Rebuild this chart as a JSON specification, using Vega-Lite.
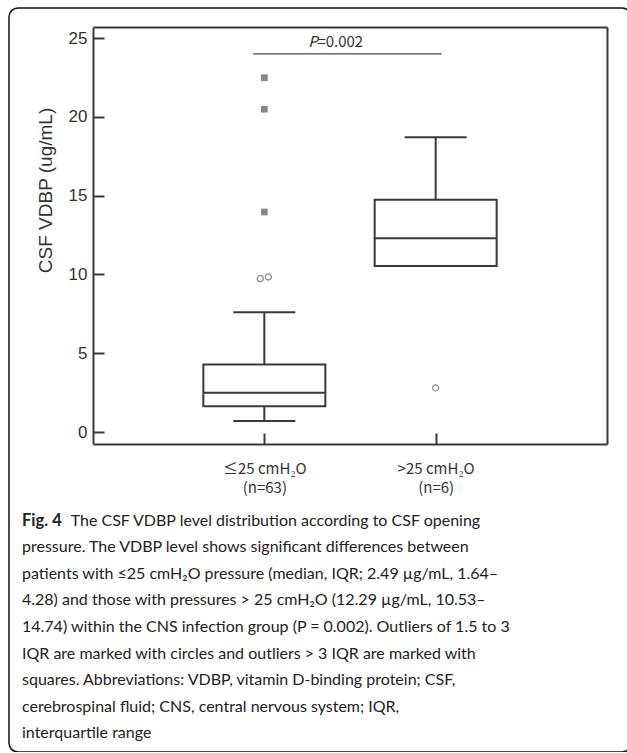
{
  "$schema": "https://vega.github.io/schema/vega-lite/v6.json",
  "width": 622,
  "height": 744,
  "autosize": "none",
  "padding": {"left": 9, "top": 8, "right": 0, "bottom": 0},
  "background": "white",
  "config": {
    "view": {"stroke": "#111", "strokeWidth": 1.5, "cornerRadius": 9, "fill": "white"}
  },
  "title": {
    "text": "Fig. 4",
    "subtitle": [
      "\u200d\u00a0\u00a0\u00a0\u00a0\u00a0\u00a0\u00a0\u00a0\u00a0\u00a0\u00a0\u00a0The CSF VDBP level distribution according to CSF opening",
      "pressure. The VDBP level shows significant differences between",
      "patients with ≤25 cmH₂O pressure (median, IQR; 2.49 µg/mL, 1.64–",
      "4.28) and those with pressures > 25 cmH₂O (12.29 µg/mL, 10.53–",
      "14.74) within the CNS infection group (P = 0.002). Outliers of 1.5 to 3",
      "IQR are marked with circles and outliers > 3 IQR are marked with",
      "squares. Abbreviations: VDBP, vitamin D-binding protein; CSF,",
      "cerebrospinal fluid; CNS, central nervous system; IQR,",
      "interquartile range"
    ],
    "orient": "bottom",
    "anchor": "start",
    "frame": "group",
    "offset": -239,
    "dx": 13,
    "font": "Lato",
    "fontSize": 16.5,
    "fontWeight": "bold",
    "color": "#222",
    "subtitleFont": "Lato",
    "subtitleFontSize": 16,
    "subtitleColor": "#222",
    "subtitleLineHeight": 26.6,
    "subtitlePadding": -17
  },
  "datasets": {
    "stats": [
      {"grp": "≤25 cmH₂O|(n=63)", "lo": 0.7, "q1": 1.64, "med": 2.49, "q3": 4.28, "hi": 7.6},
      {"grp": ">25 cmH₂O|(n=6)", "lo": 10.53, "q1": 10.53, "med": 12.29, "q3": 14.74, "hi": 18.7}
    ],
    "outliers": [
      {"grp": "≤25 cmH₂O|(n=63)", "v": 22.48, "type": "extreme", "k": "m"},
      {"grp": "≤25 cmH₂O|(n=63)", "v": 20.48, "type": "extreme", "k": "m"},
      {"grp": "≤25 cmH₂O|(n=63)", "v": 13.96, "type": "extreme", "k": "m"},
      {"grp": "≤25 cmH₂O|(n=63)", "v": 9.74, "type": "mild", "k": "a"},
      {"grp": "≤25 cmH₂O|(n=63)", "v": 9.84, "type": "mild", "k": "b"},
      {"grp": ">25 cmH₂O|(n=6)", "v": 2.8, "type": "mild", "k": "m"}
    ],
    "pval": [
      {"a": "≤25 cmH₂O|(n=63)", "b": ">25 cmH₂O|(n=6)", "y": 24.0, "p": "P", "rest": "=0.002"}
    ]
  },
  "resolve": {"axis": {"x": "independent", "y": "independent"}},
  "layer": [
    {
      "data": {"name": "stats"},
      "mark": {"type": "rule", "stroke": "#3a3a3a", "strokeWidth": 2},
      "encoding": {
        "x": {
          "field": "grp", "type": "nominal", "sort": null,
          "scale": {"type": "point", "domain": ["≤25 cmH₂O|(n=63)", ">25 cmH₂O|(n=6)"], "range": [84, 598], "padding": 1.067},
          "axis": {
            "orient": "bottom", "offset": -308, "title": null,
            "domainColor": "#3a3a3a", "domainWidth": 2,
            "tickColor": "#3a3a3a", "tickWidth": 2, "tickSize": -11,
            "labelExpr": "split(datum.value, '|')",
            "labelAngle": 0, "labelPadding": 28, "labelFont": "Noto Sans CJK KR",
            "labelFontSize": 15, "labelColor": "#333", "labelLineHeight": 19, "grid": false
          }
        },
        "y": {
          "field": "lo", "type": "quantitative",
          "scale": {"domain": [-0.76, 25.7], "range": [436, 19], "nice": false, "zero": false},
          "axis": {
            "orient": "left", "offset": -84, "values": [0, 5, 10, 15, 20, 25],
            "domainColor": "#3a3a3a", "domainWidth": 2,
            "tickColor": "#3a3a3a", "tickWidth": 2, "tickSize": -11,
            "labelPadding": 17, "labelFont": "Liberation Sans", "labelFontSize": 17, "labelColor": "#333",
            "grid": false,
            "title": "CSF VDBP (ug/mL)", "titleFont": "Liberation Sans", "titleFontSize": 19,
            "titleFontWeight": "normal", "titleColor": "#333", "titleY": 182, "titleX": -48,
            "titleAnchor": "middle", "titleBaseline": "middle"
          }
        },
        "y2": {"field": "hi"}
      }
    },
    {
      "data": {"name": "stats"},
      "mark": {"type": "rect", "fill": "white", "stroke": "#3a3a3a", "strokeWidth": 2, "xOffset": -61, "x2Offset": 61},
      "encoding": {
        "x": {"field": "grp", "type": "nominal", "axis": null},
        "x2": {"field": "grp"},
        "y": {"field": "q1", "type": "quantitative", "axis": null},
        "y2": {"field": "q3"}
      }
    },
    {
      "data": {"name": "stats"},
      "mark": {"type": "rule", "stroke": "#3a3a3a", "strokeWidth": 2, "xOffset": -61, "x2Offset": 61},
      "encoding": {
        "x": {"field": "grp", "type": "nominal", "axis": null},
        "x2": {"field": "grp"},
        "y": {"field": "med", "type": "quantitative", "axis": null}
      }
    },
    {
      "data": {"name": "stats"},
      "mark": {"type": "rule", "stroke": "#3a3a3a", "strokeWidth": 2, "xOffset": -31, "x2Offset": 31},
      "encoding": {
        "x": {"field": "grp", "type": "nominal", "axis": null},
        "x2": {"field": "grp"},
        "y": {"field": "hi", "type": "quantitative", "axis": null}
      }
    },
    {
      "data": {"name": "stats"},
      "mark": {"type": "rule", "stroke": "#3a3a3a", "strokeWidth": 2, "xOffset": -31, "x2Offset": 31},
      "encoding": {
        "x": {"field": "grp", "type": "nominal", "axis": null},
        "x2": {"field": "grp"},
        "y": {"field": "lo", "type": "quantitative", "axis": null}
      }
    },
    {
      "data": {"name": "outliers"},
      "transform": [{"filter": "datum.type === 'extreme'"}],
      "mark": {"type": "point", "shape": "square", "filled": true, "fill": "#888", "size": 45, "opacity": 1},
      "encoding": {
        "x": {"field": "grp", "type": "nominal", "axis": null},
        "y": {"field": "v", "type": "quantitative", "axis": null}
      }
    },
    {
      "data": {"name": "outliers"},
      "transform": [{"filter": "datum.type === 'mild' && datum.k === 'm'"}],
      "mark": {"type": "point", "shape": "circle", "filled": false, "stroke": "#888", "strokeWidth": 1.2, "size": 38, "opacity": 1},
      "encoding": {
        "x": {"field": "grp", "type": "nominal", "axis": null},
        "y": {"field": "v", "type": "quantitative", "axis": null}
      }
    },
    {
      "data": {"name": "outliers"},
      "transform": [{"filter": "datum.k === 'a'"}],
      "mark": {"type": "point", "shape": "circle", "filled": false, "stroke": "#888", "strokeWidth": 1.2, "size": 38, "opacity": 1, "xOffset": -4},
      "encoding": {
        "x": {"field": "grp", "type": "nominal", "axis": null},
        "y": {"field": "v", "type": "quantitative", "axis": null}
      }
    },
    {
      "data": {"name": "outliers"},
      "transform": [{"filter": "datum.k === 'b'"}],
      "mark": {"type": "point", "shape": "circle", "filled": false, "stroke": "#888", "strokeWidth": 1.2, "size": 38, "opacity": 1, "xOffset": 4},
      "encoding": {
        "x": {"field": "grp", "type": "nominal", "axis": null},
        "y": {"field": "v", "type": "quantitative", "axis": null}
      }
    },
    {
      "data": {"name": "pval"},
      "mark": {"type": "rule", "stroke": "#444", "strokeWidth": 1.2, "xOffset": -11, "x2Offset": 6},
      "encoding": {
        "x": {"field": "a", "type": "nominal",
          "axis": {"orient": "top", "offset": -19, "ticks": false, "labels": false, "title": null, "grid": false, "domainColor": "#3a3a3a", "domainWidth": 2}},
        "x2": {"field": "b"},
        "y": {"field": "y", "type": "quantitative",
          "axis": {"orient": "right", "offset": -24, "ticks": false, "labels": false, "title": null, "grid": false, "domainColor": "#3a3a3a", "domainWidth": 2}}
      }
    },
    {
      "data": {"name": "pval"},
      "mark": {"type": "text", "align": "left", "baseline": "alphabetic", "dx": 44, "dy": -7, "font": "Noto Sans CJK KR", "fontSize": 15, "fontStyle": "italic", "fill": "#333"},
      "encoding": {
        "x": {"field": "a", "type": "nominal", "axis": null},
        "y": {"field": "y", "type": "quantitative", "axis": null},
        "text": {"field": "p"}
      }
    },
    {
      "data": {"name": "pval"},
      "mark": {"type": "text", "align": "left", "baseline": "alphabetic", "dx": 53, "dy": -7, "font": "Noto Sans CJK KR", "fontSize": 15, "fill": "#333"},
      "encoding": {
        "x": {"field": "a", "type": "nominal", "axis": null},
        "y": {"field": "y", "type": "quantitative", "axis": null},
        "text": {"field": "rest"}
      }
    }
  ]
}
